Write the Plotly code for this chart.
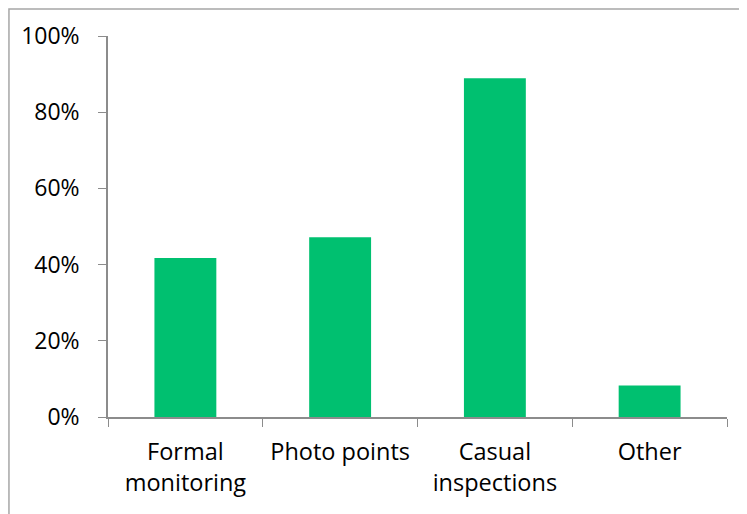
import plotly.graph_objects as go

# Share of respondents using each method
categories = ['Formal<br>monitoring', 'Photo points', 'Casual<br>inspections', 'Other']
shares = [0.417, 0.472, 0.889, 0.083]

bar_color = '#00c070'
axis_color = '#8c8c8c'

fig = go.Figure()
fig.add_trace(go.Bar(x=categories, y=shares, marker_color=bar_color, marker_line_width=0))

fig.update_layout(
    width=747, height=514,
    margin=dict(l=100, r=28, t=28, b=105),
    paper_bgcolor='white', plot_bgcolor='white',
    bargap=0.6,
    showlegend=False,
    font=dict(family='Open Sans', size=23, color='#000000'),
)

fig.update_xaxes(
    type='category', tickson='boundaries', ticks='outside', ticklen=8,
    tickcolor=axis_color, showline=True, linecolor=axis_color, linewidth=1.5,
    showgrid=False, ticklabelstandoff=13, tickfont=dict(size=23.5),
)
fig.update_yaxes(
    range=[0, 1], dtick=0.2, tickformat='.0%', ticks='outside', ticklen=8,
    tickcolor=axis_color, showline=True, linecolor=axis_color, linewidth=1.5,
    showgrid=False, zeroline=False, ticklabelstandoff=14,
)

# Outer chart border
fig.add_shape(type='rect', xref='paper', yref='paper',
              x0=-0.16, x1=1.2, y0=-0.4, y1=1.071,
              line=dict(color='#a6a6a6', width=1.5), layer='below')

fig.write_html('out.html')
